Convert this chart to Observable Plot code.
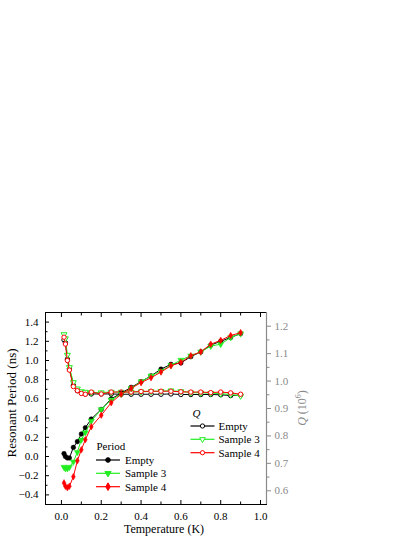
<!DOCTYPE html>
<html>
<head>
<meta charset="utf-8">
<script src="https://cdn.jsdelivr.net/npm/d3@7"></script>
<script src="https://cdn.jsdelivr.net/npm/@observablehq/plot@0.6"></script>
<style>
  html, body { margin: 0; padding: 0; background: white; }
  #chart { width: 415px; height: 537px; }
  #chart svg text { font-family: 'Liberation Serif', 'Times New Roman', Times, serif; }
</style>
</head>
<body>
<div id="chart"></div>
<script>
// ---- data ----
const temperature = [0.013, 0.02, 0.03, 0.04, 0.06, 0.08, 0.1, 0.12, 0.15, 0.2, 0.25, 0.3, 0.35, 0.4, 0.45, 0.5, 0.55, 0.6, 0.65, 0.7, 0.75, 0.8, 0.85, 0.9];

const periodEmpty   = [0.03, 0.0, -0.015, -0.015, 0.095, 0.155, 0.235, 0.30, 0.39, 0.49, 0.60, 0.66, 0.72, 0.78, 0.84, 0.91, 0.96, 0.975, 1.04, 1.09, 1.16, 1.20, 1.24, 1.28];
const periodSample3 = [-0.11, -0.125, -0.125, -0.11, -0.055, 0.045, 0.175, 0.25, 0.37, 0.49, 0.59, 0.65, 0.71, 0.78, 0.84, 0.89, 0.95, 1.005, 1.05, 1.09, 1.15, 1.17, 1.24, 1.28];
const periodSample4 = [-0.275, -0.31, -0.325, -0.31, -0.21, -0.045, 0.07, 0.175, 0.31, 0.43, 0.56, 0.65, 0.71, 0.77, 0.82, 0.88, 0.945, 0.98, 1.05, 1.09, 1.17, 1.21, 1.26, 1.29];

const qEmpty   = [1.15, 1.14, 1.08, 1.045, 0.985, 0.965, 0.957, 0.953, 0.953, 0.953, 0.953, 0.952, 0.952, 0.952, 0.952, 0.952, 0.953, 0.951, 0.951, 0.951, 0.951, 0.950, 0.947, 0.949];
const qSample3 = [1.17, 1.155, 1.095, 1.05, 0.995, 0.972, 0.962, 0.960, 0.958, 0.958, 0.960, 0.960, 0.960, 0.961, 0.962, 0.963, 0.965, 0.962, 0.958, 0.957, 0.956, 0.954, 0.951, 0.946];
const qSample4 = [1.16, 1.135, 1.075, 1.04, 0.980, 0.965, 0.955, 0.952, 0.960, 0.953, 0.960, 0.960, 0.960, 0.962, 0.963, 0.963, 0.963, 0.961, 0.960, 0.960, 0.958, 0.960, 0.957, 0.952];

const seriesNames = ["Empty", "Sample 3", "Sample 4"];
const seriesColors = ["#000000", "#22ee22", "#ff0000"];

const xMajorTicks = [0.0, 0.2, 0.4, 0.6, 0.8, 1.0];
const xMinorTicks = [0.1, 0.3, 0.5, 0.7, 0.9];
const yMajorTicks = [-0.4, -0.2, 0.0, 0.2, 0.4, 0.6, 0.8, 1.0, 1.2, 1.4];
const yMinorTicks = [-0.3, -0.1, 0.1, 0.3, 0.5, 0.7, 0.9, 1.1, 1.3];
const qMajorTicks = [0.6, 0.7, 0.8, 0.9, 1.0, 1.1, 1.2];
const qMinorTicks = [0.65, 0.75, 0.85, 0.95, 1.05, 1.15];

const xDomain = [-0.08, 1.03];
const yDomain = [-0.5, 1.5];
const qDomain = [0.55, 1.25];

// map Q (right axis) onto the left-axis value space
const qToY = q => yDomain[0] + (q - qDomain[0]) * (yDomain[1] - yDomain[0]) / (qDomain[1] - qDomain[0]);

// ---- tables ----
const periodSeries = [periodEmpty, periodSample3, periodSample4];
const qSeries = [qEmpty, qSample3, qSample4];
const periodRows = [], qRows = [];
seriesNames.forEach((name, s) => {
  temperature.forEach((t, i) => {
    periodRows.push({series: name, s, t, v: periodSeries[s][i]});
    qRows.push({series: name, s, t, q: qSeries[s][i], v: qToY(qSeries[s][i])});
  });
});

const sqrt3 = Math.sqrt(3);
const triangleDown = {
  draw(context, size) {
    const y = -Math.sqrt(size / (sqrt3 * 3));
    context.moveTo(0, -y * 2);
    context.lineTo(-sqrt3 * y, y);
    context.lineTo(sqrt3 * y, y);
    context.closePath();
  }
};
const symbols = [d3.symbolCircle, triangleDown, d3.symbolDiamond];
const qSymbols = [d3.symbolCircle, triangleDown, d3.symbolCircle];

const font = "'Liberation Serif', 'Times New Roman', Times, serif";
const gray = "#8a8a8a";

const marks = [];
// Q series (open markers)
seriesNames.forEach((name, s) => {
  const rows = qRows.filter(d => d.s === s);
  marks.push(Plot.line(rows, {x: "t", y: "v", stroke: seriesColors[s], strokeWidth: 1}));
  marks.push(Plot.dot(rows, {x: "t", y: "v", stroke: seriesColors[s], fill: "white", symbol: qSymbols[s], r: 2.2, strokeWidth: 1}));
});
// Period series (filled markers)
seriesNames.forEach((name, s) => {
  const rows = periodRows.filter(d => d.s === s);
  marks.push(Plot.line(rows, {x: "t", y: "v", stroke: seriesColors[s], strokeWidth: 1}));
  marks.push(Plot.dot(rows, {x: "t", y: "v", fill: seriesColors[s], stroke: seriesColors[s], symbol: symbols[s], r: s === 2 ? 2.0 : 2.3, strokeWidth: 0.5}));
});

// axes
const fmt = d3.format(".1f");
marks.push(
  // bottom
  Plot.axisX({anchor: "bottom", ticks: xMajorTicks, tickSize: -4, tickPadding: 12, tickFormat: fmt, label: null, fontSize: 11, fontFamily: font}),
  Plot.axisX({anchor: "bottom", ticks: xMinorTicks, tickSize: -2.5, tickFormat: () => "", label: null}),
  // top (mirror ticks)
  Plot.axisX({anchor: "top", ticks: xMajorTicks, tickSize: -4, tickFormat: () => "", label: null}),
  Plot.axisX({anchor: "top", ticks: xMinorTicks, tickSize: -2.5, tickFormat: () => "", label: null}),
  // left
  Plot.axisY({anchor: "left", ticks: yMajorTicks, tickSize: -4, tickPadding: 11, tickFormat: fmt, label: null, fontSize: 11, fontFamily: font}),
  Plot.axisY({anchor: "left", ticks: yMinorTicks, tickSize: -2.5, tickFormat: () => "", label: null}),
  // right (Q axis, gray, outward ticks)
  Plot.axisY({anchor: "right", ticks: qMajorTicks.map(qToY), tickSize: 4, tickPadding: 4,
              tickFormat: (d, i) => fmt(qMajorTicks[i]), label: null, color: gray, fontSize: 11, fontFamily: font}),
  Plot.axisY({anchor: "right", ticks: qMinorTicks.map(qToY), tickSize: 2.5, tickFormat: () => "", label: null, color: gray}),
  // frame
  Plot.frame({stroke: "black", strokeWidth: 1}),
  Plot.ruleX([xDomain[1]], {stroke: gray, strokeWidth: 1.2})
);

const plot = Plot.plot({
  width: 415,
  height: 537,
  marginLeft: 45,
  marginRight: 149,
  marginTop: 312,
  marginBottom: 33,
  style: {fontFamily: font, fontSize: "11px", background: "white", color: "black"},
  x: {domain: xDomain},
  y: {domain: yDomain},
  marks
});

document.getElementById("chart").appendChild(plot);

// ---- titles & legends ----
const svg = d3.select(plot);
const g = svg.append("g").attr("font-family", font).attr("text-anchor", "start");

g.append("text")
  .attr("transform", "translate(11,403) rotate(-90)")
  .attr("text-anchor", "middle").attr("dominant-baseline", "central")
  .attr("font-size", 13).attr("fill", "black")
  .text("Resonant Period (ns)");

g.append("text")
  .attr("x", 164).attr("y", 529)
  .attr("text-anchor", "middle").attr("dominant-baseline", "central")
  .attr("font-size", 12).attr("fill", "black")
  .text("Temperature (K)");

const rt = g.append("text")
  .attr("transform", "translate(302,408) rotate(-90)")
  .attr("text-anchor", "middle").attr("dominant-baseline", "central")
  .attr("font-size", 12).attr("fill", gray);
rt.append("tspan").attr("font-style", "italic").text("Q");
rt.append("tspan").text(" (10");
rt.append("tspan").attr("font-size", 8).attr("dy", -4).text("6");
rt.append("tspan").attr("dy", 4).text(")");

function legend(title, titleItalic, tx, ty, x1, x2, textX, ys, syms, filled) {
  g.append("text").attr("x", tx).attr("y", ty)
    .attr("text-anchor", "start")
    .attr("dominant-baseline", "central").attr("font-size", 11)
    .attr("font-style", titleItalic ? "italic" : null)
    .text(title);
  seriesNames.forEach((name, s) => {
    const y = ys[s];
    g.append("line").attr("x1", x1).attr("x2", x2).attr("y1", y).attr("y2", y)
      .attr("stroke", seriesColors[s]).attr("stroke-width", 1.2);
    g.append("path")
      .attr("transform", `translate(${(x1 + x2) / 2},${y})`)
      .attr("d", d3.symbol(syms[s], filled ? 17 : 14)())
      .attr("fill", filled ? seriesColors[s] : "white")
      .attr("stroke", seriesColors[s]).attr("stroke-width", 1);
    g.append("text").attr("x", textX).attr("y", y)
      .attr("text-anchor", "start")
      .attr("dominant-baseline", "central").attr("font-size", 11)
      .text(name);
  });
}
legend("Period", false, 96.5, 445.5, 96, 120, 125, [460, 473.3, 486.7], symbols, true);
legend("Q", true, 192.5, 412.5, 190.5, 214.5, 218.5, [426, 439.3, 452.7], qSymbols, false);
</script>
</body>
</html>
